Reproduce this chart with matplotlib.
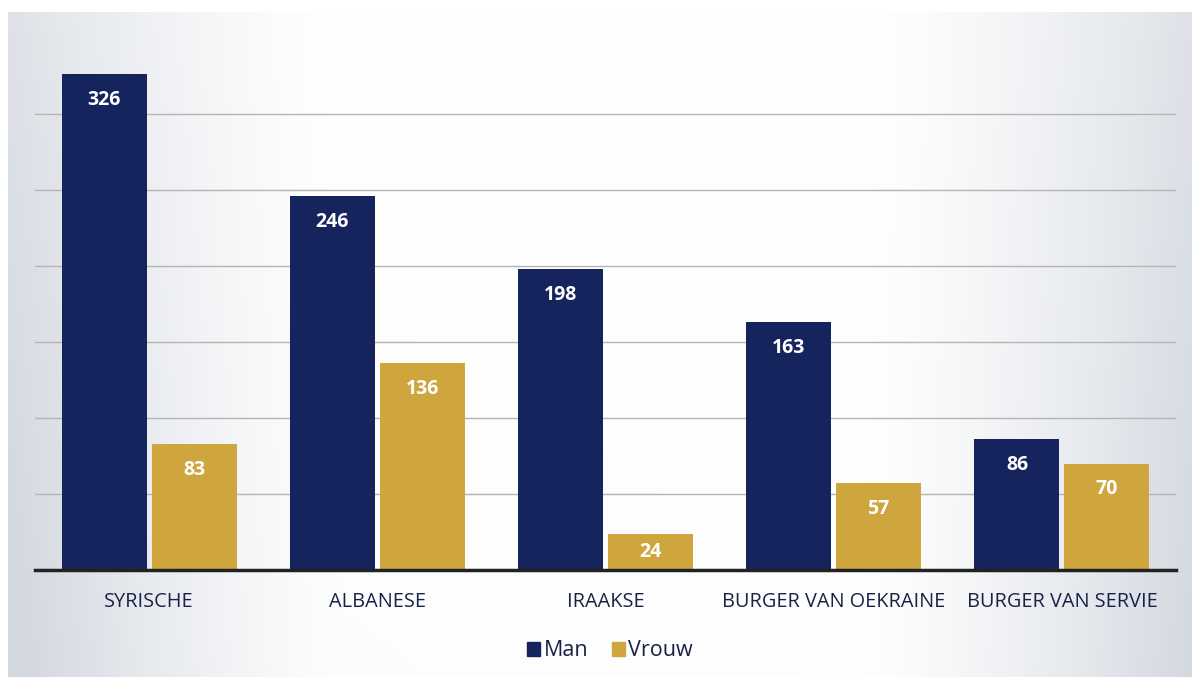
import numpy as np
import matplotlib.pyplot as plt
from matplotlib.patches import Patch

categories = ["SYRISCHE", "ALBANESE", "IRAAKSE", "BURGER VAN OEKRAINE", "BURGER VAN SERVIE"]
man = [326, 246, 198, 163, 86]
vrouw = [83, 136, 24, 57, 70]

NAVY = "#15245c"
GOLD = "#cfa53e"
TEXT = "#1a2146"

plt.rcParams["font.family"] = ["Open Sans", "DejaVu Sans"]

fig = plt.figure(figsize=(11.92, 6.77), dpi=100)
fig.patch.set_facecolor("white")

# soft grey paper behind the chart, lighter towards the middle
bg = fig.add_axes([8 / 1192, 0, 1 - 8 / 1192, 665 / 677], zorder=-5)
xx = np.linspace(0, 1, 400)
yy = np.linspace(0, 1, 200)[:, None]
shade = np.maximum(np.clip(1 - xx / 0.28, 0, 1) ** 1.3, np.clip((xx - 0.72) / 0.28, 0, 1) ** 1.3)
shade = shade * (0.75 + 0.25 * yy) + 0.08 * (1 - xx) * yy
shade = np.clip(shade, 0, 1)
lo = np.array([0.83, 0.85, 0.88])
img = 1 - shade[..., None] * (1 - lo)
bg.imshow(img, aspect="auto", extent=[0, 1, 0, 1], origin="upper")
bg.set_axis_off()

ax = fig.add_axes([35 / 1192, 1 - 570 / 677, (1176 - 35) / 1192, (570 - 38) / 677])
ax.patch.set_alpha(0)

x = np.arange(len(categories))
w = 0.372
gap = 0.011
b1 = ax.bar(x - w / 2 - gap, man, w, color=NAVY, label="Man", zorder=3)
b2 = ax.bar(x + w / 2 + gap, vrouw, w, color=GOLD, label="Vrouw", zorder=3)

for bars, vals in ((b1, man), (b2, vrouw)):
    for bar, v in zip(bars, vals):
        y = v - min(17, v / 2)
        ax.text(bar.get_x() + bar.get_width() / 2, y, str(v), ha="center", va="center",
                color="white", fontsize=14, fontweight="bold", zorder=4)

ax.set_xlim(-0.5, len(categories) - 0.5)
ax.set_ylim(0, 350)
ax.set_yticks(np.arange(50, 301, 50))
ax.yaxis.grid(True, color="#b4b4b4", linewidth=1)
ax.set_axisbelow(True)
ax.tick_params(left=False, labelleft=False, bottom=False)
ax.set_xticks(x)
ax.set_xticklabels(categories, fontsize=14.3, color=TEXT)
ax.tick_params(axis="x", pad=12)
for s in ("top", "right", "left"):
    ax.spines[s].set_visible(False)
ax.spines["bottom"].set_color("#222222")
ax.spines["bottom"].set_linewidth(2.5)
ax.spines["bottom"].set_zorder(5)

handles = [Patch(color=NAVY, label="Man"), Patch(color=GOLD, label="Vrouw")]
fig.legend(handles=handles, loc="center", bbox_to_anchor=(610 / 1192, 1 - 651 / 677), ncol=2,
           frameon=False, fontsize=15.5, handlelength=0.62, handleheight=0.62,
           handletextpad=0.15, columnspacing=1.1, labelcolor=TEXT)

fig.savefig("out.png", dpi=100)
